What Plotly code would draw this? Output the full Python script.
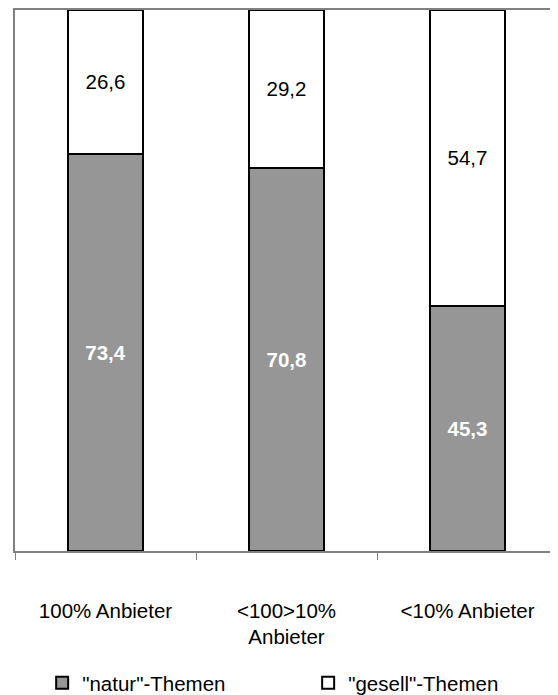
import plotly.graph_objects as go

categories = ["100% Anbieter", "<100>10%<br>Anbieter", "<10% Anbieter"]
natur = [73.4, 70.8, 45.3]
gesell = [26.6, 29.2, 54.7]
natur_labels = ["73,4", "70,8", "45,3"]
gesell_labels = ["26,6", "29,2", "54,7"]

FONT = "Liberation Sans, Arial, sans-serif"
FS = 20.5

fig = go.Figure()
fig.add_trace(go.Bar(
    x=categories, y=natur, name='"natur"-Themen',
    marker=dict(color="#969696", line=dict(color="black", width=2)),
    text=natur_labels, textposition="inside", insidetextanchor="middle",
    textfont=dict(color="white", size=FS, family=FONT, weight="bold"),
    hoverinfo="skip",
))
fig.add_trace(go.Bar(
    x=categories, y=gesell, name='"gesell"-Themen',
    marker=dict(color="white", line=dict(color="black", width=2)),
    text=gesell_labels, textposition="inside", insidetextanchor="middle",
    textfont=dict(color="black", size=FS, family=FONT),
    hoverinfo="skip",
))

fig.update_layout(
    barmode="stack",
    bargap=0.59,
    width=550, height=687,
    margin=dict(l=7, r=0, t=2, b=144, autoexpand=False),
    paper_bgcolor="white", plot_bgcolor="white",
    font=dict(family=FONT, size=FS, color="black"),
    uniformtext=dict(mode=False),
    showlegend=True,
    legend=dict(
        orientation="h", x=0.05, xanchor="left", y=-0.244, yanchor="middle",
        entrywidth=221, entrywidthmode="pixels",
        font=dict(size=FS, family=FONT, color="black"),
        traceorder="normal", itemwidth=30,
    ),
    xaxis=dict(
        showline=True, linecolor="#808080", linewidth=2, mirror=True,
        ticks="outside", tickson="boundaries", ticklen=7, tickcolor="#808080",
        tickwidth=1, showgrid=False,
        ticklabelstandoff=40,
        tickfont=dict(size=FS, family=FONT, color="black"),
    ),
    yaxis=dict(
        range=[0, 100], showline=True, linecolor="#808080", linewidth=2,
        showticklabels=False, ticks="", showgrid=False, zeroline=False,
    ),
)

fig.write_html("out.html")
